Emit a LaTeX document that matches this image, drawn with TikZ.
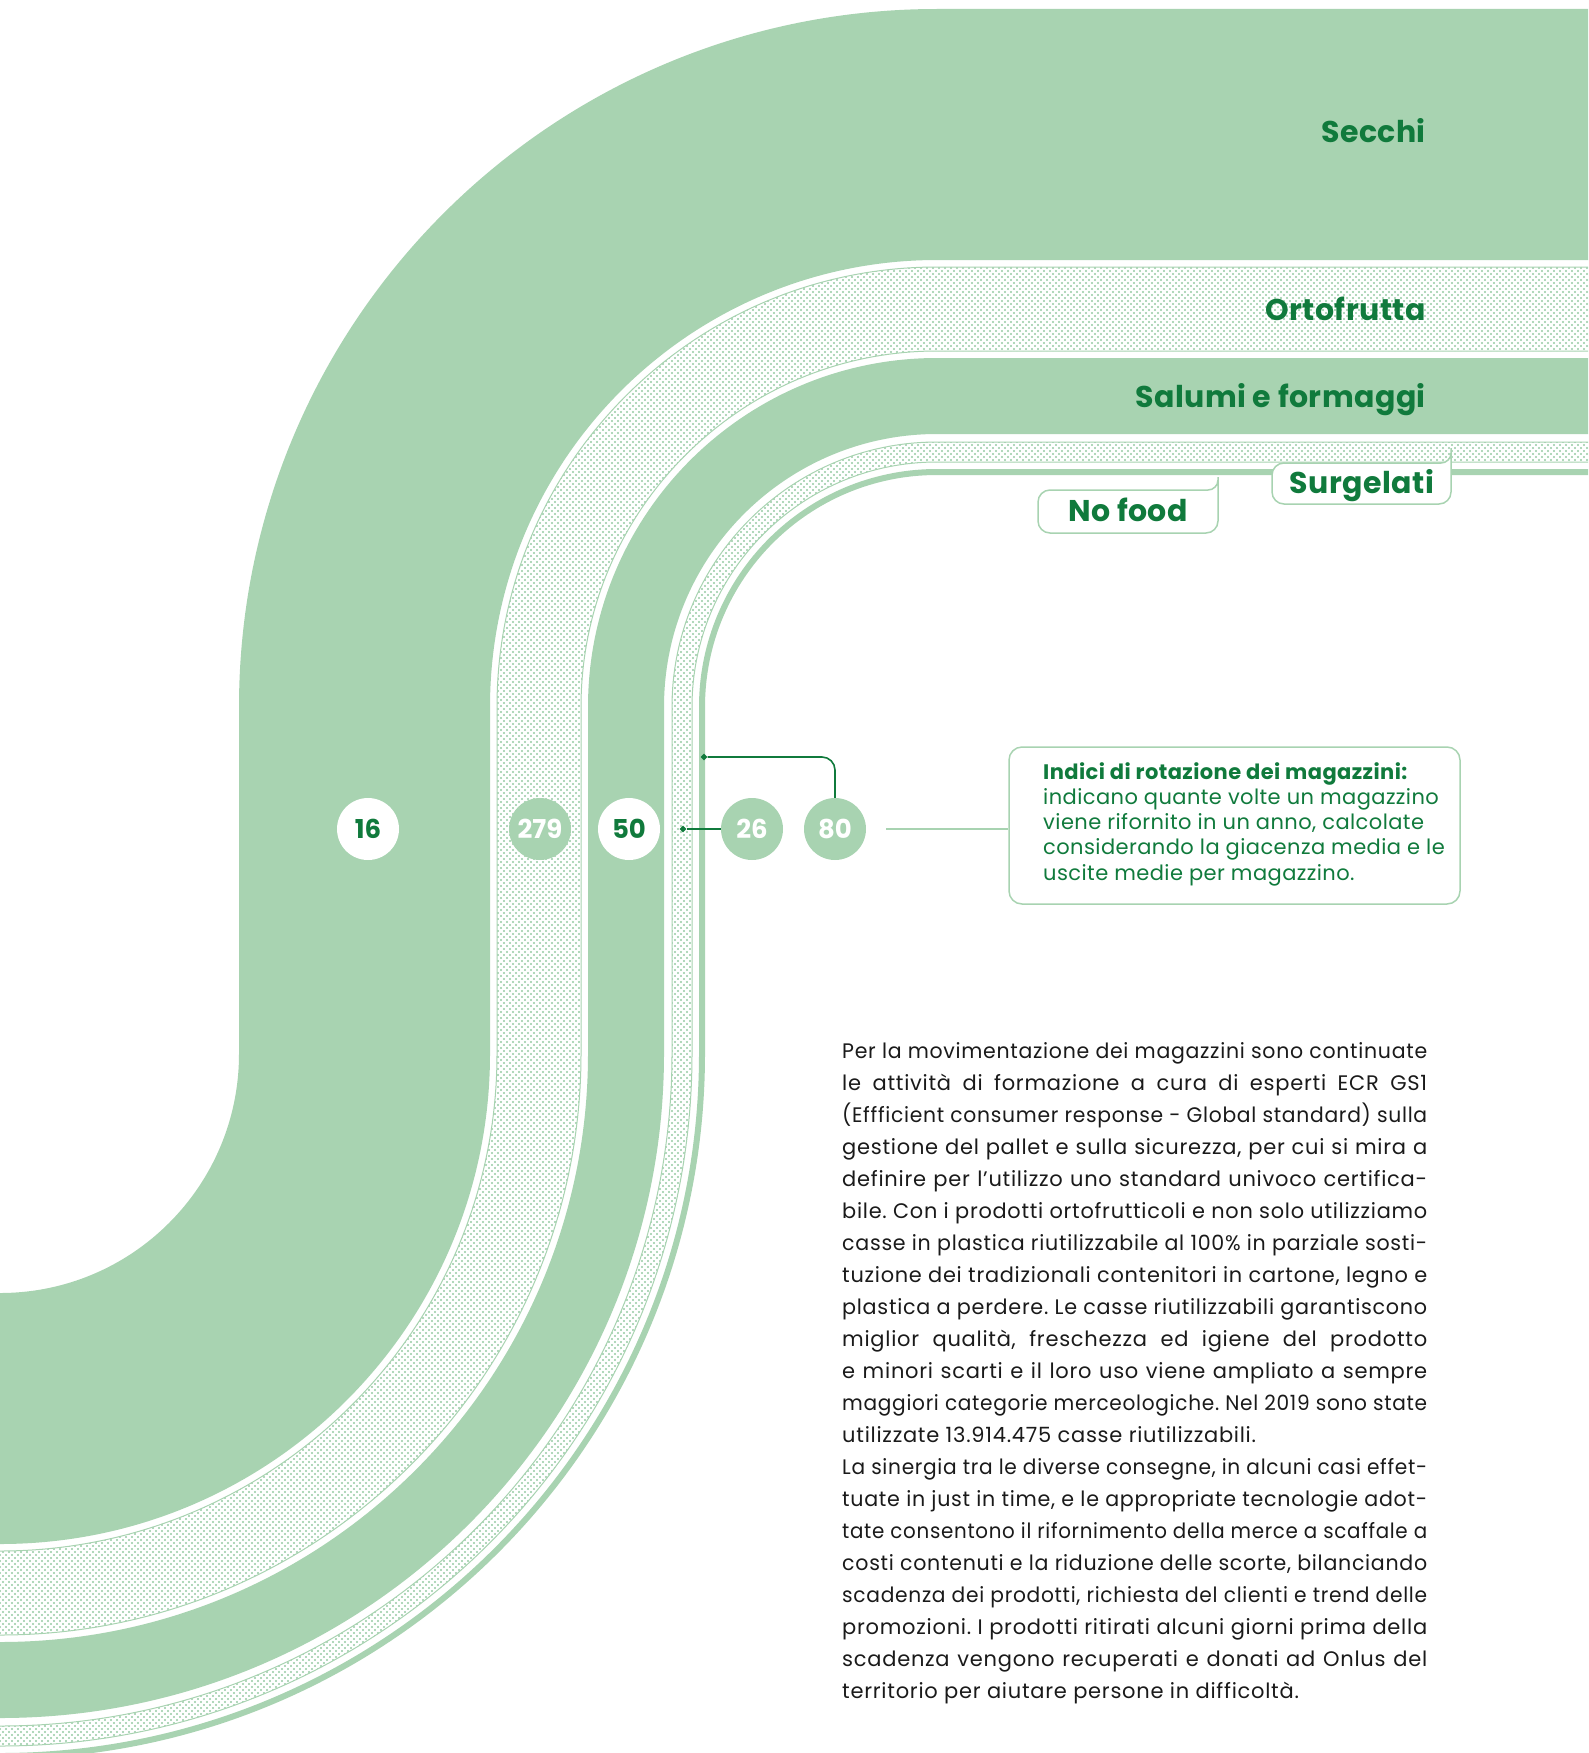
\documentclass[tikz,border=0pt]{standalone}
\usepackage{fontspec}
\setmainfont{Poppins}
\usepackage{graphicx}
\usetikzlibrary{patterns,shapes.geometric}
\frenchspacing

\definecolor{bandgreen}{RGB}{168,211,177}
\definecolor{dotgreen}{RGB}{150,202,164}
\definecolor{dkgreen}{RGB}{16,122,60}
\definecolor{bodygray}{RGB}{26,26,26}

% staggered dot texture for the hatched bands
\pgfdeclarepatternformonly{gdots}{\pgfpoint{-1.5pt}{-1.5pt}}{\pgfpoint{4.5pt}{4.5pt}}{\pgfpoint{6pt}{6pt}}{%
  \pgfpathcircle{\pgfpoint{0pt}{0pt}}{1.15pt}%
  \pgfpathcircle{\pgfpoint{3pt}{3pt}}{1.15pt}%
  \pgfusepath{fill}}

% one S-shaped band between offsets #2 and #3 from the outer edge
\newcommand\band[3][]{%
  \path[#1] (1600,{9+#2}) -- (937,{9+#2})
    arc[start angle=-90,end angle=-180,radius={698-#2}]
    -- ({239+#2},1054) arc[start angle=0,end angle=90,radius={239+#2}]
    -- (-20,{1293+#2}) -- (-20,{1293+#3}) -- (0,{1293+#3})
    arc[start angle=90,end angle=0,radius={239+#3}]
    -- ({239+#3},707) arc[start angle=-180,end angle=-90,radius={698-#3}]
    -- (1600,{9+#3}) -- cycle;}

% body text lines: justified to the column, squeezed if too long
\newdimen\bodyw \bodyw=585pt
\newdimen\linenat
\newcommand\jl[1]{\setbox0=\hbox{#1}\linenat=\wd0\relax
  \ifdim\linenat>\bodyw
    \pgfmathsetmacro\fitx{\bodyw/\linenat}\hbox{\scalebox{\fitx}[1]{\box0}}%
  \else\hbox to\bodyw{#1}\fi}
\newcommand\lastl[1]{\hbox{#1}}

\tikzset{
  solidband/.style={fill=bandgreen},
  dotband/.style={pattern=gdots, pattern color=dotgreen, draw=bandgreen, line width=1pt},
  bandlabel/.style={font=\bfseries\fontsize{30}{36}\selectfont\addfontfeatures{LetterSpace=1.5},
    text=dkgreen, inner sep=0, anchor=base east},
  numwhite/.style={circle, minimum size=62pt, inner sep=0, fill=white, text=dkgreen,
    font=\bfseries\fontsize{26}{30}\selectfont},
  numgreen/.style={circle, minimum size=62pt, inner sep=0, fill=bandgreen, text=white,
    font=\bfseries\fontsize{26}{30}\selectfont},
  marker/.style={diamond, fill=dkgreen, inner sep=0, minimum size=7pt},
  leader/.style={draw=dkgreen, line width=1.6pt},
  thinlink/.style={draw=bandgreen, line width=1.3pt},
  callout/.style={draw=bandgreen, fill=white, line width=1.5pt},
  calltext/.style={font=\bfseries\fontsize{30}{36}\selectfont\addfontfeatures{LetterSpace=1.5},
    text=dkgreen, inner sep=0, anchor=base},
}

\begin{document}
\begin{tikzpicture}[x=1pt, y=1pt, yscale=-1]
\useasboundingbox (0,0) rectangle (1588,1753);
\clip (0,0) rectangle (1588,1753);

% the five bands
\band[solidband]{0}{251}
\band[dotband]{258}{342}
\band[solidband]{349}{425}
\band[dotband]{433}{453}
\band[solidband]{460}{466}

% band names
\node[bandlabel] (secchi) at (1426,142) {Secchi};
\node[bandlabel] (orto) at (1426,320) {Ortofrutta};
\node[bandlabel] (salumi) at (1426,407) {Salumi e formaggi};

% tabs for the two thin bands
\draw[callout] (1451,448) -- (1451,492) arc[start angle=0,end angle=90,radius=12]
  -- (1284,504) arc[start angle=90,end angle=180,radius=12]
  -- (1272,475) arc[start angle=180,end angle=270,radius=12]
  -- (1441,463) arc[start angle=90,end angle=0,radius=10] -- cycle;
\node[calltext] (surg) at (1362,493) {Surgelati};

\draw[callout] (1218,477) -- (1218,521) arc[start angle=0,end angle=90,radius=12]
  -- (1050,533) arc[start angle=90,end angle=180,radius=12]
  -- (1038,502) arc[start angle=180,end angle=270,radius=12]
  -- (1208,490) arc[start angle=90,end angle=0,radius=10] -- cycle;
\node[calltext] (nofood) at (1128,521) {No food};

% rotation indices
\node[numwhite] (n16) at (368,829) {16};
\node[numgreen] (n279) at (540,829) {279};
\node[numwhite] (n50) at (629,829) {50};
\node[numgreen] (n26) at (752,829) {26};
\node[numgreen] (n80) at (835,829) {80};

\node[marker] (m26) at (683,829) {};
\node[marker] (m80) at (704,757) {};
\draw[leader] (n26) -- (m26);
\draw[leader, rounded corners=13pt] (n80) |- (m80);

% legend box
\node[draw=bandgreen, line width=1.5pt, rounded corners=13pt, minimum width=451pt,
  minimum height=157pt, inner sep=0] (ibox) at (1234.5,825.5) {};
\draw[thinlink, shorten <=20pt] (n80) -- (n80 -| ibox.west);
\node[anchor=base west, inner sep=0, text=dkgreen,
  font=\fontsize{21}{25.3}\selectfont\addfontfeatures{LetterSpace=2}]
  (itext) at (1043,779) {\parbox[t]{415pt}{\raggedright
  \textbf{Indici di rotazione dei magazzini:}\\
  indicano quante volte un magazzino\\
  viene rifornito in un anno, calcolate\\
  considerando la giacenza media e le\\
  uscite medie per magazzino.}};

% body text
\node[anchor=base west, inner sep=0, text=bodygray,
  font=\fontsize{21}{32}\selectfont\addfontfeatures{LetterSpace=3.5}]
  (body) at (842,1058) {\parbox[t]{585pt}{%
  \jl{Per la movimentazione dei magazzini sono continuate}
  \jl{le attività di formazione a cura di esperti ECR GS1}
  \jl{(Effficient consumer response - Global standard) sulla}
  \jl{gestione del pallet e sulla sicurezza, per cui si mira a}
  \jl{definire per l’utilizzo uno standard univoco certifica-}
  \jl{bile. Con i prodotti ortofrutticoli e non solo utilizziamo}
  \jl{casse in plastica riutilizzabile al 100\% in parziale sosti-}
  \jl{tuzione dei tradizionali contenitori in cartone, legno e}
  \jl{plastica a perdere. Le casse riutilizzabili garantiscono}
  \jl{miglior qualità, freschezza ed igiene del prodotto}
  \jl{e minori scarti e il loro uso viene ampliato a sempre}
  \jl{maggiori categorie merceologiche. Nel 2019 sono state}
  \lastl{utilizzate 13.914.475 casse riutilizzabili.}
  \jl{La sinergia tra le diverse consegne, in alcuni casi effet-}
  \jl{tuate in just in time, e le appropriate tecnologie adot-}
  \jl{tate consentono il rifornimento della merce a scaffale a}
  \jl{costi contenuti e la riduzione delle scorte, bilanciando}
  \jl{scadenza dei prodotti, richiesta del clienti e trend delle}
  \jl{promozioni. I prodotti ritirati alcuni giorni prima della}
  \jl{scadenza vengono recuperati e donati ad Onlus del}
  \lastl{territorio per aiutare persone in difficoltà.}}};
\end{tikzpicture}
\end{document}
